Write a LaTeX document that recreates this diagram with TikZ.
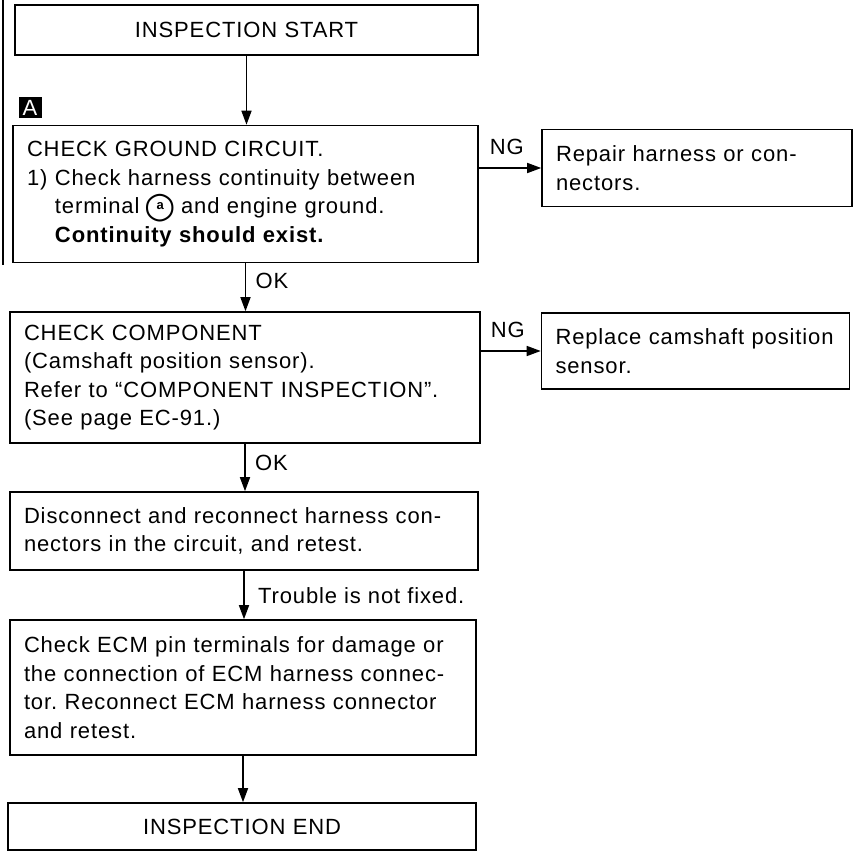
\documentclass[tikz,border=0pt]{standalone}
\usepackage{fontspec}
\setmainfont{Liberation Sans}[LetterSpace=4]
\newfontfamily\dejavu{DejaVu Sans}
\usetikzlibrary{arrows.meta,calc}
\newcommand\circa{\makebox[27pt]{\hss\ooalign{\hfil\raisebox{4.2pt}{\fontsize{13}{13}\selectfont\bfseries a}\hfil\crcr\raisebox{-4pt}{\dejavu\bfseries\fontsize{36}{36}\selectfont ○}}\hss}}
\frenchspacing
\begin{document}
\begin{tikzpicture}[x=1pt,y=-1pt,
  box/.style={draw, line width=1.6pt, rectangle, inner xsep=14pt, inner ysep=0pt, align=left, font=\fontsize{22}{28.5}\selectfont\frenchspacing},
  cbox/.style={box, align=center},
  lbl/.style={font=\fontsize{22}{28.5}\selectfont},
  arr/.style={line width=1.6pt, -{Triangle[length=14pt,width=10pt]}}]
\useasboundingbox (0,0) rectangle (866,854);
\draw[line width=1.5pt] (3,0) -- (3,265);
\node[cbox, minimum width=463pt, minimum height=50pt, text width=435pt] (start) at (246.5,30) {INSPECTION START};
\node[fill=black, text=white, minimum width=23pt, minimum height=21pt, inner sep=0pt, font=\fontsize{22}{22}\selectfont] (lab) at (30,107.5) {A};
\node[box, minimum width=465pt, minimum height=137pt, text width=437pt] (ground) at (245.5,194) {CHECK GROUND CIRCUIT.\\1) Check harness continuity between\\\hspace*{28pt}terminal \circa\ and engine ground.\\\hspace*{28pt}\textbf{Continuity should exist.}};
\node[box, minimum width=310pt, minimum height=77pt, text width=282pt] (repair) at (697,168) {Repair harness or con-\\nectors.};
\node[box, minimum width=470pt, minimum height=131pt, text width=442pt] (comp) at (245,377.5) {CHECK COMPONENT\\(Camshaft position sensor).\\Refer to ``COMPONENT INSPECTION''.\\(See page EC-91.)};
\node[box, minimum width=308pt, minimum height=76pt, text width=280pt] (replace) at (695.5,351) {Replace camshaft position\\sensor.};
\node[box, minimum width=468pt, minimum height=78pt, text width=440pt] (disc) at (244,531) {Disconnect and reconnect harness con-\\nectors in the circuit, and retest.};
\node[box, minimum width=466pt, minimum height=135pt, text width=438pt] (ecm) at (243,687.5) {Check ECM pin terminals for damage or\\the connection of ECM harness connec-\\tor. Reconnect ECM harness connector\\and retest.};
\node[cbox, minimum width=468pt, minimum height=47pt, text width=440pt] (theend) at (242,826.5) {INSPECTION END};
\draw[arr] (start.south) -- (start.south |- ground.north);
\draw[arr] (ground.east |- repair.west) -- (repair.west) node[lbl, pos=0.45, above=9pt] {NG};
\draw[arr] (ground.south) -- (ground.south |- comp.north) node[lbl, pos=0.36, right=6pt] {OK};
\draw[arr] (comp.east |- replace.west) -- (replace.west) node[lbl, pos=0.45, above=9pt] {NG};
\draw[arr] (comp.south) -- (comp.south |- disc.north) node[lbl, pos=0.4, right=6pt] {OK};
\draw[arr] (disc.south) -- (disc.south |- ecm.north) node[lbl, pos=0.52, right=10pt] {Trouble is not fixed.};
\draw[arr] (ecm.south) -- (ecm.south |- theend.north);
\end{tikzpicture}
\end{document}
